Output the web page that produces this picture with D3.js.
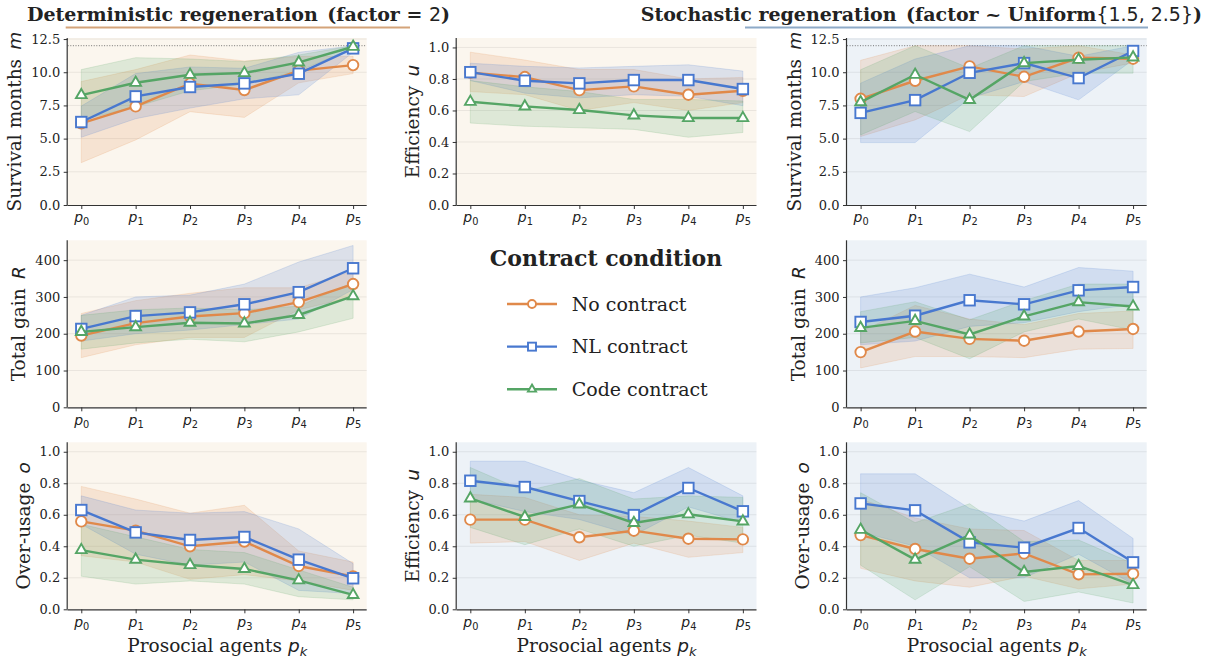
<!DOCTYPE html>
<html>
<head>
<meta charset="utf-8">
<script src="https://cdn.jsdelivr.net/npm/d3@7"></script>
<style>
  body { margin: 0; background: #fff; }
  svg { display: block; }
  text { font-family: "DejaVu Serif", serif; fill: #222; }
</style>
</head>
<body>
<svg id="chart" width="1212" height="660"></svg>
<script>
// ---- data ----
const conditions = ["No contract", "NL contract", "Code contract"];
const agentIdx = [0, 1, 2, 3, 4, 5];
const survivalTicks = [0, 2.5, 5, 7.5, 10, 12.5];
const fracTicks = [0, 0.2, 0.4, 0.6, 0.8, 1.0];
const gainTicks = [0, 100, 200, 300, 400];
const survivalCap = 12;

// deterministic regeneration, rows = [No, NL, Code]
const detSurvivalMean = [
  [6.15, 7.43, 9.14, 8.66, 10.12, 10.54],
  [6.25, 8.18, 8.89, 9.16, 9.89, 11.80],
  [8.28, 9.21, 9.81, 9.94, 10.74, 11.92]];
const detSurvivalLo = [
  [3.19, 4.90, 7.03, 6.60, 9.20, 9.90],
  [5.10, 6.50, 7.30, 8.00, 8.30, 11.50],
  [6.40, 7.40, 8.60, 9.10, 10.10, 11.80]];
const detSurvivalHi = [
  [9.30, 10.20, 11.30, 10.85, 11.20, 11.20],
  [7.45, 9.90, 10.40, 10.30, 11.50, 12.00],
  [10.20, 11.10, 11.00, 10.80, 11.30, 12.00]];

const detEffMean = [
  [0.84, 0.812, 0.729, 0.753, 0.70, 0.725],
  [0.843, 0.789, 0.772, 0.793, 0.793, 0.736],
  [0.655, 0.626, 0.603, 0.569, 0.552, 0.552]];
const detEffLo = [
  [0.72, 0.70, 0.60, 0.65, 0.60, 0.65],
  [0.79, 0.71, 0.68, 0.70, 0.69, 0.63],
  [0.52, 0.50, 0.49, 0.48, 0.43, 0.46]];
const detEffHi = [
  [0.97, 0.92, 0.86, 0.86, 0.80, 0.81],
  [0.90, 0.88, 0.87, 0.88, 0.89, 0.85],
  [0.79, 0.75, 0.72, 0.67, 0.67, 0.66]];

const detGainMean = [
  [195, 229, 247, 256, 286, 335],
  [213, 248, 258, 280, 313, 378],
  [205, 218, 230, 228, 251, 302]];
const detGainLo = [
  [135, 170, 190, 190, 265, 300],
  [180, 200, 210, 225, 240, 320],
  [158, 175, 185, 178, 205, 242]];
const detGainHi = [
  [255, 290, 310, 325, 325, 370],
  [250, 300, 305, 335, 395, 440],
  [250, 265, 270, 265, 275, 340]];

const detOverMean = [
  [0.558, 0.499, 0.40, 0.43, 0.275, 0.209],
  [0.63, 0.488, 0.44, 0.459, 0.315, 0.197],
  [0.376, 0.315, 0.281, 0.256, 0.184, 0.091]];
const detOverLo = [
  [0.34, 0.30, 0.19, 0.22, 0.18, 0.12],
  [0.54, 0.35, 0.28, 0.30, 0.12, 0.10],
  [0.21, 0.16, 0.18, 0.16, 0.08, 0.06]];
const detOverHi = [
  [0.78, 0.70, 0.61, 0.66, 0.37, 0.30],
  [0.72, 0.63, 0.61, 0.62, 0.51, 0.29],
  [0.54, 0.46, 0.38, 0.36, 0.25, 0.14]];

// stochastic regeneration
const stoSurvivalMean = [
  [8.00, 9.36, 10.44, 9.66, 11.09, 11.02],
  [6.94, 7.90, 9.96, 10.69, 9.56, 11.60],
  [7.75, 9.81, 7.92, 10.69, 10.94, 11.12]];
const stoSurvivalLo = [
  [5.16, 6.41, 8.30, 8.17, 9.93, 10.70],
  [4.70, 4.70, 8.05, 9.30, 7.92, 10.94],
  [5.28, 7.04, 5.53, 9.30, 9.93, 9.93]];
const stoSurvivalHi = [
  [10.90, 12.00, 12.00, 11.75, 12.00, 11.30],
  [9.18, 11.00, 12.00, 12.00, 11.20, 12.00],
  [10.19, 12.00, 10.30, 12.00, 12.00, 12.00]];

const stoEffMean = [
  [0.569, 0.569, 0.457, 0.499, 0.448, 0.444],
  [0.816, 0.776, 0.687, 0.598, 0.770, 0.622],
  [0.704, 0.586, 0.666, 0.548, 0.603, 0.558]];
const stoEffLo = [
  [0.42, 0.43, 0.31, 0.42, 0.33, 0.36],
  [0.70, 0.62, 0.57, 0.47, 0.65, 0.55],
  [0.52, 0.41, 0.51, 0.40, 0.47, 0.42]];
const stoEffHi = [
  [0.73, 0.71, 0.60, 0.59, 0.56, 0.52],
  [0.94, 0.94, 0.82, 0.74, 0.90, 0.72],
  [0.90, 0.75, 0.83, 0.70, 0.72, 0.71]];

const stoGainMean = [
  [150, 206, 186, 181, 206, 213],
  [232, 249, 291, 280, 318, 327],
  [216, 235, 198, 247, 286, 274]];
const stoGainLo = [
  [107, 138, 138, 135, 158, 160],
  [170, 180, 220, 230, 260, 280],
  [175, 190, 132, 205, 240, 210]];
const stoGainHi = [
  [205, 277, 240, 225, 255, 262],
  [300, 325, 362, 327, 380, 370],
  [260, 287, 238, 290, 335, 335]];

const stoOverMean = [
  [0.471, 0.383, 0.321, 0.355, 0.222, 0.226],
  [0.672, 0.628, 0.425, 0.391, 0.516, 0.298],
  [0.505, 0.315, 0.467, 0.237, 0.275, 0.154]];
const stoOverLo = [
  [0.26, 0.18, 0.14, 0.21, 0.13, 0.16],
  [0.49, 0.40, 0.20, 0.20, 0.35, 0.16],
  [0.28, 0.06, 0.27, 0.05, 0.11, 0.04]];
const stoOverHi = [
  [0.70, 0.58, 0.51, 0.50, 0.31, 0.31],
  [0.86, 0.86, 0.64, 0.56, 0.69, 0.45],
  [0.74, 0.55, 0.67, 0.43, 0.44, 0.29]];

// ---- styling / layout ----
const colors = ["#e0894a", "#4878cf", "#55a565"];
const shapes = ["circle", "square", "triangle"];
const bgDet = "#fbf6ee";
const bgSto = "#edf2f7";

const cols = [[67.7, 366.7], [456.7, 756.5], [847, 1146.7]];
const rows = [[38, 205], [240.3, 407.3], [442.3, 609.3]];

const panels = [
  {c: 0, r: 0, mean: detSurvivalMean, lo: detSurvivalLo, hi: detSurvivalHi, ymax: 12.58, ticks: survivalTicks, fmt: d3.format(".1f"), lab: "Survival months", sym: "m", bg: bgDet, cap: true},
  {c: 1, r: 0, mean: detEffMean, lo: detEffLo, hi: detEffHi, ymax: 1.06, ticks: fracTicks, fmt: d3.format(".1f"), lab: "Efficiency", sym: "u", bg: bgDet},
  {c: 2, r: 0, mean: stoSurvivalMean, lo: stoSurvivalLo, hi: stoSurvivalHi, ymax: 12.58, ticks: survivalTicks, fmt: d3.format(".1f"), lab: "Survival months", sym: "m", bg: bgSto, cap: true},
  {c: 0, r: 1, mean: detGainMean, lo: detGainLo, hi: detGainHi, ymax: 454, ticks: gainTicks, fmt: d3.format("d"), lab: "Total gain", sym: "R", bg: bgDet},
  {c: 2, r: 1, mean: stoGainMean, lo: stoGainLo, hi: stoGainHi, ymax: 454, ticks: gainTicks, fmt: d3.format("d"), lab: "Total gain", sym: "R", bg: bgSto},
  {c: 0, r: 2, mean: detOverMean, lo: detOverLo, hi: detOverHi, ymax: 1.06, ticks: fracTicks, fmt: d3.format(".1f"), lab: "Over-usage", sym: "o", bg: bgDet, xlab: true},
  {c: 1, r: 2, mean: stoEffMean, lo: stoEffLo, hi: stoEffHi, ymax: 1.06, ticks: fracTicks, fmt: d3.format(".1f"), lab: "Efficiency", sym: "u", bg: bgSto, xlab: true},
  {c: 2, r: 2, mean: stoOverMean, lo: stoOverLo, hi: stoOverHi, ymax: 1.06, ticks: fracTicks, fmt: d3.format(".1f"), lab: "Over-usage", sym: "o", bg: bgSto, xlab: true}
];

const svg = d3.select("#chart");

function marker(sel, shape, color, s) {
  if (shape === "circle") {
    sel.append("circle").attr("r", s * 0.5).attr("fill", "#fff").attr("stroke", color).attr("stroke-width", 1.9);
  } else if (shape === "square") {
    sel.append("rect").attr("x", -s * 0.5).attr("y", -s * 0.5).attr("width", s).attr("height", s)
      .attr("fill", "#fff").attr("stroke", color).attr("stroke-width", 1.9);
  } else {
    sel.append("path").attr("d", d3.symbol(d3.symbolTriangle, s * s * 0.45)())
      .attr("fill", "#fff").attr("stroke", color).attr("stroke-width", 1.9);
  }
}

panels.forEach((p) => {
  const [left, right] = cols[p.c];
  const [top, bottom] = rows[p.r];
  const x = d3.scaleLinear().domain([-0.25, 5.25]).range([left, right]);
  const y = d3.scaleLinear().domain([0, p.ymax]).range([bottom, top]);
  const g = svg.append("g");

  g.append("rect").attr("x", left).attr("y", top).attr("width", right - left).attr("height", bottom - top).attr("fill", p.bg);

  // grid
  g.append("g").selectAll("line").data(p.ticks.filter((t) => t > 0)).join("line")
    .attr("x1", left).attr("x2", right).attr("y1", (d) => y(d)).attr("y2", (d) => y(d))
    .attr("stroke", "#000").attr("stroke-opacity", 0.07).attr("stroke-width", 1);

  if (p.cap) {
    g.append("line").attr("x1", left).attr("x2", right).attr("y1", y(survivalCap)).attr("y2", y(survivalCap))
      .attr("stroke", "#555").attr("stroke-width", 0.8).attr("stroke-dasharray", "1,1.6");
  }

  // bands
  const area = d3.area().x((d, i) => x(i)).y0((d) => y(d[0])).y1((d) => y(d[1]));
  conditions.forEach((c, k) => {
    const band = agentIdx.map((i) => [p.lo[k][i], p.hi[k][i]]);
    g.append("path").attr("d", area(band)).attr("fill", colors[k]).attr("fill-opacity", 0.17)
      .attr("stroke", colors[k]).attr("stroke-opacity", 0.22).attr("stroke-width", 0.8);
  });

  // lines + markers
  const line = d3.line().x((d, i) => x(i)).y((d) => y(d));
  conditions.forEach((c, k) => {
    g.append("path").attr("d", line(p.mean[k])).attr("fill", "none").attr("stroke", colors[k]).attr("stroke-width", 2.4);
    g.append("g").selectAll("g").data(p.mean[k]).join("g")
      .attr("transform", (d, i) => `translate(${x(i)},${y(d)})`)
      .each(function () { marker(d3.select(this), shapes[k], colors[k], 10.5); });
  });

  // axes
  const yAxis = g.append("g").attr("transform", `translate(${left},0)`)
    .call(d3.axisLeft(y).tickValues(p.ticks).tickFormat(p.fmt).tickSize(4).tickPadding(3.5));
  const xAxis = g.append("g").attr("transform", `translate(0,${bottom})`)
    .call(d3.axisBottom(x).tickValues(agentIdx).tickSize(4).tickPadding(3.5));
  [yAxis, xAxis].forEach((a) => {
    a.select(".domain").attr("stroke", "#333").attr("stroke-width", 1.2);
    a.selectAll(".tick line").attr("stroke", "#333").attr("stroke-width", 1);
    a.selectAll(".tick text").attr("font-family", "DejaVu Serif").attr("font-size", 13).attr("fill", "#333");
  });
  xAxis.select(".domain").attr("d", `M${left},0.5H${right}`);
  yAxis.select(".domain").attr("d", `M-0.5,${bottom}V${top}`);
  xAxis.selectAll(".tick text").attr("font-size", 14).each(function (d) {
    const t = d3.select(this).text(null);
    t.append("tspan").attr("font-family", "DejaVu Sans").attr("font-style", "italic").text("p");
    t.append("tspan").attr("font-family", "DejaVu Sans").attr("font-size", "0.7em").attr("dy", "0.3em").text(d);
  });

  // y label
  const bb = yAxis.node().getBBox();
  const yl = g.append("text")
    .attr("transform", `translate(${left + bb.x - 10},${(top + bottom) / 2}) rotate(-90)`)
    .attr("text-anchor", "middle").attr("font-size", 18.5).attr("fill", "#222");
  yl.append("tspan").text(p.lab + "\u2002");
  yl.append("tspan").attr("font-family", "DejaVu Sans").attr("font-style", "italic").text(p.sym);

  if (p.xlab) {
    const xl = g.append("text").attr("x", (left + right) / 2).attr("y", bottom + 43)
      .attr("text-anchor", "middle").attr("font-size", 18.5).attr("fill", "#222");
    xl.append("tspan").text("Prosocial agents ");
    xl.append("tspan").attr("font-family", "DejaVu Sans").attr("font-style", "italic").text("p");
    xl.append("tspan").attr("font-family", "DejaVu Sans").attr("font-style", "italic")
      .attr("font-size", "0.7em").attr("dy", "0.3em").text("k");
  }
});

// ---- legend ----
const lg = svg.append("g");
lg.append("text").attr("x", 606).attr("y", 266).attr("text-anchor", "middle")
  .attr("font-size", 22).attr("font-weight", "bold").attr("fill", "#111").text("Contract condition");
const legRowY = d3.scalePoint().domain(conditions).range([304, 389.3]);
conditions.forEach((c, k) => {
  const yy = legRowY(c);
  lg.append("line").attr("x1", 507).attr("x2", 557).attr("y1", yy).attr("y2", yy)
    .attr("stroke", colors[k]).attr("stroke-width", 2.4);
  marker(lg.append("g").attr("transform", `translate(532,${yy})`), shapes[k], colors[k], 8);
  lg.append("text").attr("x", 571.7).attr("y", yy + 6.5).attr("font-size", 19).attr("fill", "#222").text(c);
});

// ---- column titles ----
const t1 = svg.append("text").attr("x", 27).attr("y", 21).attr("font-size", 19)
  .attr("font-weight", "bold").attr("fill", "#b06a2e");
t1.append("tspan").text("Deterministic regeneration\u2002(factor = ");
t1.append("tspan").attr("font-family", "DejaVu Sans").attr("font-weight", "normal").text("2");
t1.append("tspan").text(")");
svg.append("line").attr("x1", 65.7).attr("x2", 410).attr("y1", 27.5).attr("y2", 27.5)
  .attr("stroke", "#d4a379").attr("stroke-width", 2);

const t2 = svg.append("text").attr("x", 640.7).attr("y", 21).attr("font-size", 19)
  .attr("font-weight", "bold").attr("fill", "#3f6894");
t2.append("tspan").text("Stochastic regeneration\u2002(factor ~ Uniform");
t2.append("tspan").attr("font-family", "DejaVu Sans").attr("font-weight", "normal").text("{1.5, 2.5}");
t2.append("tspan").text(")");
svg.append("line").attr("x1", 745).attr("x2", 1148).attr("y1", 27.5).attr("y2", 27.5)
  .attr("stroke", "#8eaac7").attr("stroke-width", 2);
</script>
</body>
</html>
